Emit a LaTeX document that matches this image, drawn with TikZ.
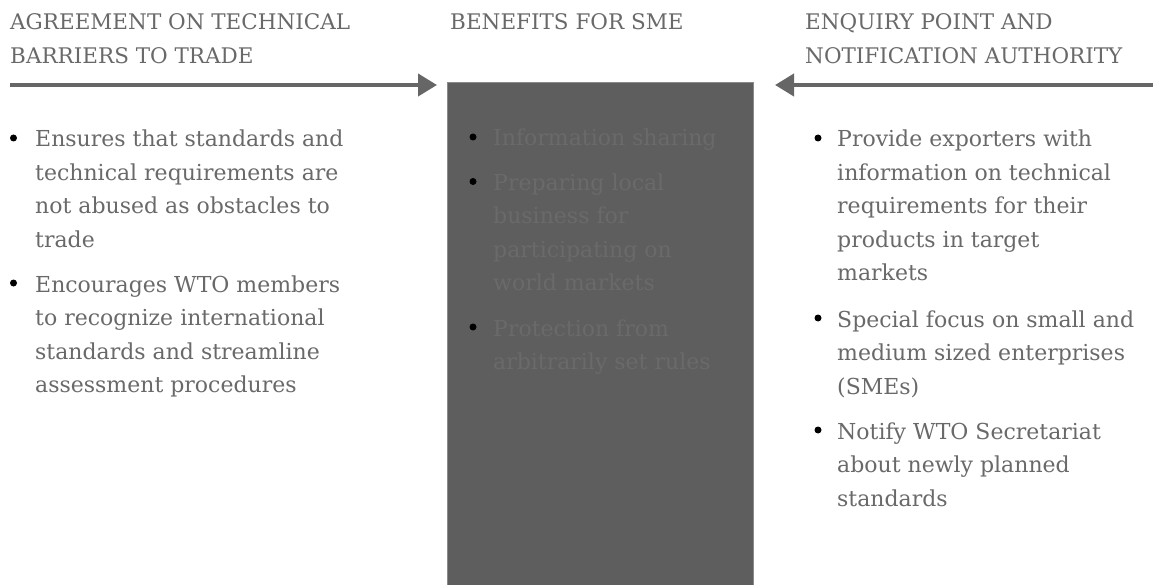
\documentclass[tikz,border=0pt]{standalone}
\usepackage{fontspec}
\setmainfont{DejaVu Serif}
\usetikzlibrary{arrows.meta}
\definecolor{txtgray}{HTML}{696969}
\definecolor{boxgray}{HTML}{5E5E5E}
\definecolor{boxedge}{HTML}{8A8A8A}
\definecolor{boxtext}{HTML}{6A6A6A}
\definecolor{arrowgray}{HTML}{666666}
% multi-line text whose reference point is the first baseline
\newcommand\blocklines[1]{\parbox[t]{340pt}{\raggedright #1}}
\begin{document}
\begin{tikzpicture}[x=1pt,y=-1pt,
  heading/.style={anchor=base west, inner sep=0pt, text=txtgray,
    font=\fontsize{21.5}{34}\selectfont},
  itemtext/.style={anchor=base west, inner sep=0pt, text=txtgray,
    font=\fontsize{22}{33.5}\selectfont},
  boxitem/.style={itemtext, text=boxtext},
  dot/.style={circle, fill=black, inner sep=0pt, minimum size=7pt},
  flow/.style={arrowgray, line width=4pt, -{Triangle[length=19pt,width=22pt]}}
]
\useasboundingbox (0,0) rectangle (1153,585);

% central panel
\node (smebox) [anchor=north west, fill=boxgray, draw=boxedge, line width=0.8pt,
  inner sep=0pt, minimum width=306pt, minimum height=520pt] at (447,82) {};

% column headings
\node (hleft) [heading] at (10,30) {\blocklines{AGREEMENT ON TECHNICAL\\BARRIERS TO TRADE}};
\node (hmid) [heading] at (450,30) {BENEFITS FOR SME};
\node (hright) [heading] at (805,30) {\blocklines{ENQUIRY POINT AND\\NOTIFICATION AUTHORITY}};

% arrows towards the panel
\coordinate (lstart) at (10,85);
\coordinate (ltip) at (437,85);
\coordinate (rstart) at (1153,85);
\coordinate (rtip) at (775,85);
\draw[flow] (lstart) -- (ltip);
\draw[flow] (rstart) -- (rtip);

% left column
\node (lb1) [dot] at (13.5,138) {};
\node (l1) [itemtext] at (35,147) {\blocklines{Ensures that standards and\\technical requirements are\\not abused as obstacles to\\trade}};
\node (lb2) [dot] at (13.5,283) {};
\node (l2) [itemtext] at (35,292) {\blocklines{Encourages WTO members\\to recognize international\\standards and streamline\\assessment procedures}};

% central column
\node (mb1) [dot] at (473,137) {};
\node (m1) [boxitem] at (493,146) {Information sharing};
\node (mb2) [dot] at (473,181.5) {};
\node (m2) [boxitem] at (493,190.5) {\blocklines{Preparing local\\business for\\participating on\\world markets}};
\node (mb3) [dot] at (473,327) {};
\node (m3) [boxitem] at (493,336) {\blocklines{Protection from\\arbitrarily set rules}};

% right column
\node (rb1) [dot] at (818,138) {};
\node (r1) [itemtext] at (837,147) {\blocklines{Provide exporters with\\information on technical\\requirements for their\\products in target\\markets}};
\node (rb2) [dot] at (818,318) {};
\node (r2) [itemtext] at (837,327) {\blocklines{Special focus on small and\\medium sized enterprises\\(SMEs)}};
\node (rb3) [dot] at (818,430) {};
\node (r3) [itemtext] at (837,439) {\blocklines{Notify WTO Secretariat\\about newly planned\\standards}};
\end{tikzpicture}
\end{document}
